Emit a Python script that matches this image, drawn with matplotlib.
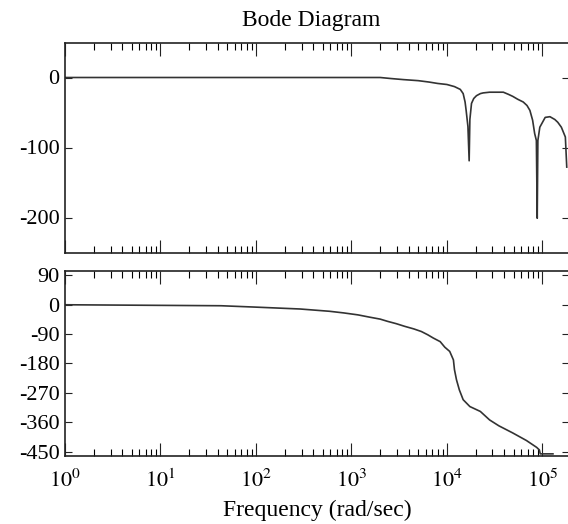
#!/usr/bin/env python3

import matplotlib
matplotlib.use('Agg')
import matplotlib.pyplot as plt
from matplotlib.ticker import LogLocator, NullFormatter, FixedLocator

# magnitude curve (rad/sec, dB)
mag_freq = [1, 2.0e3, 2.6e3, 3.5e3, 5.0e3, 6.5e3, 8.0e3, 1.0e4, 1.2e4, 1.38e4,
            1.48e4, 1.55e4, 1.59e4, 1.66e4, 1.71e4, 1.74e4, 1.81e4, 1.91e4,
            2.04e4, 2.24e4, 2.4e4, 2.8e4, 3.9e4, 4.4e4, 4.9e4, 5.5e4, 6.3e4,
            6.9e4, 7.4e4, 7.9e4, 8.3e4, 8.65e4, 8.83e4, 8.97e4, 9.4e4, 1.07e5,
            1.2e5, 1.35e5, 1.45e5, 1.58e5, 1.74e5, 1.8e5]
mag_db = [0, 0, -1.5, -3, -4.5, -6.5, -8.5, -10, -13, -17,
          -23, -35, -47, -70, -119, -60, -37, -30,
          -26, -23, -22, -21, -21, -24, -27, -31, -35,
          -40, -47, -61, -80, -90, -201, -90, -71, -57,
          -56, -60, -64, -71, -85, -128]

# phase curve (rad/sec, deg)
ph_freq = [1, 43, 95, 290, 590, 830, 1.17e3, 1.55e3, 2.0e3, 2.4e3, 2.95e3,
           3.6e3, 4.5e3, 5.4e3, 6.3e3, 7.2e3, 8.5e3, 9.5e3, 1.07e4, 1.17e4,
           1.2e4, 1.26e4, 1.35e4, 1.48e4, 1.74e4, 2.24e4, 2.8e4, 3.5e4, 4.9e4,
           6.8e4, 8.7e4, 9.3e4, 9.5e4, 1.29e5]
ph_deg = [0, -3, -7, -13, -20, -25, -31, -38, -44, -51, -58,
          -66, -74, -82, -92, -102, -113, -130, -143, -169,
          -199, -230, -261, -291, -312, -327, -353, -371, -393,
          -416, -437, -445, -457, -457]

mag_ticks = [-200, -100, 0]
ph_ticks = [-450, -360, -270, -180, -90, 0, 90]
freq_ticks = [1e0, 1e1, 1e2, 1e3, 1e4, 1e5]
freq_labels = ['$10^{%d}$' % i for i in range(6)]

plt.rcParams['font.family'] = ['Liberation Serif', 'DejaVu Serif']
plt.rcParams['mathtext.fontset'] = 'stix'
plt.rcParams['axes.unicode_minus'] = False

W, H = 568, 524
fig = plt.figure(figsize=(W / 100, H / 100), dpi=100)

left, right = 65, 569
ax1 = fig.add_axes([left / W, 1 - 252.5 / H, (right - left) / W, 210 / H])
ax2 = fig.add_axes([left / W, 1 - 455.5 / H, (right - left) / W, 185 / H])

ax1.plot(mag_freq, mag_db, color='#333333', lw=1.2)
ax2.plot(ph_freq, ph_deg, color='#333333', lw=1.2)

for ax in (ax1, ax2):
    ax.set_xscale('log')
    ax.set_xlim(1, 1.9e5)
    ax.xaxis.set_major_locator(FixedLocator(freq_ticks))
    ax.xaxis.set_minor_locator(LogLocator(base=10, subs=range(2, 10), numticks=20))
    ax.xaxis.set_minor_formatter(NullFormatter())
    ax.tick_params(direction='in', top=True, right=True, width=0.8,
                   labelsize=16, pad=4, color='#222222')
    ax.tick_params(axis='x', which='major', length=9.5, pad=10)
    ax.tick_params(axis='x', which='minor', length=5, width=0.8,
                   top=True, direction='in')
    ax.tick_params(axis='y', which='major', length=5)
    for s in ax.spines.values():
        s.set_linewidth(1.2)
        s.set_color('#222222')

ax1.set_ylim(-250, 50)
ax1.set_yticks(mag_ticks)
ax1.set_xticklabels([])

ax2.set_ylim(-462, 105)
ax2.set_yticks(ph_ticks)
ax2.set_xticklabels(freq_labels)

fig.text(311 / W, 1 - 26 / H, 'Bode Diagram', ha='center', va='baseline',
         fontsize=17)
fig.text(317 / W, 1 - 516 / H, 'Frequency (rad/sec)', ha='center',
         va='baseline', fontsize=17)

fig.savefig('out.png', dpi=100)
